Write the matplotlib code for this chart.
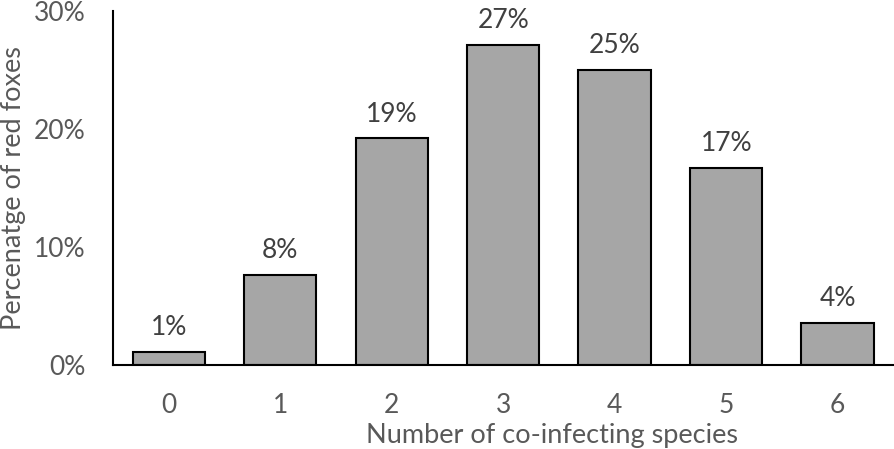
import numpy as np
import matplotlib.pyplot as plt
from matplotlib.ticker import FuncFormatter

plt.rcParams['font.family'] = ['Lato', 'DejaVu Sans']

categories = ['0', '1', '2', '3', '4', '5', '6']
pct_foxes = [1.1, 7.6, 19.2, 27.1, 25.0, 16.7, 3.6]
bar_labels = ['1%', '8%', '19%', '27%', '25%', '17%', '4%']

fig = plt.figure(figsize=(8.94, 4.49), dpi=100)
ax = fig.add_axes([0.1264, 0.187, 0.873, 0.789])

x = np.arange(len(categories))
bars = ax.bar(x, pct_foxes, width=0.65, color='#a6a6a6', edgecolor='black', linewidth=1.5)
for b, lab in zip(bars, bar_labels):
    ax.text(b.get_x() + b.get_width() / 2, b.get_height() + 1.0, lab,
            ha='center', va='bottom', fontsize=19, color='#404040')

ax.set_xlim(-0.5, len(categories) - 0.5)
ax.set_ylim(0, 30)
ax.set_yticks([0, 10, 20, 30])
ax.yaxis.set_major_formatter(FuncFormatter(lambda v, p: f'{v:.0f}%'))
ax.set_xticks(x)
ax.set_xticklabels(categories)
ax.tick_params(axis='both', length=0, labelsize=19, labelcolor='#595959')
ax.tick_params(axis='x', pad=20)
ax.tick_params(axis='y', pad=20)

ax.spines['right'].set_visible(False)
ax.spines['top'].set_visible(False)
ax.spines['left'].set_linewidth(1.5)
ax.spines['bottom'].set_linewidth(1.5)

ax.set_xlabel('Number of co-infecting species', fontsize=19.5, color='#595959', va='center')
ax.xaxis.set_label_coords(0.563, -0.198)
ax.set_ylabel('Percenatge of red foxes', fontsize=19.5, color='#595959', va='center')
ax.yaxis.set_label_coords(-0.128, 0.5)

fig.savefig('out.png', dpi=100)
